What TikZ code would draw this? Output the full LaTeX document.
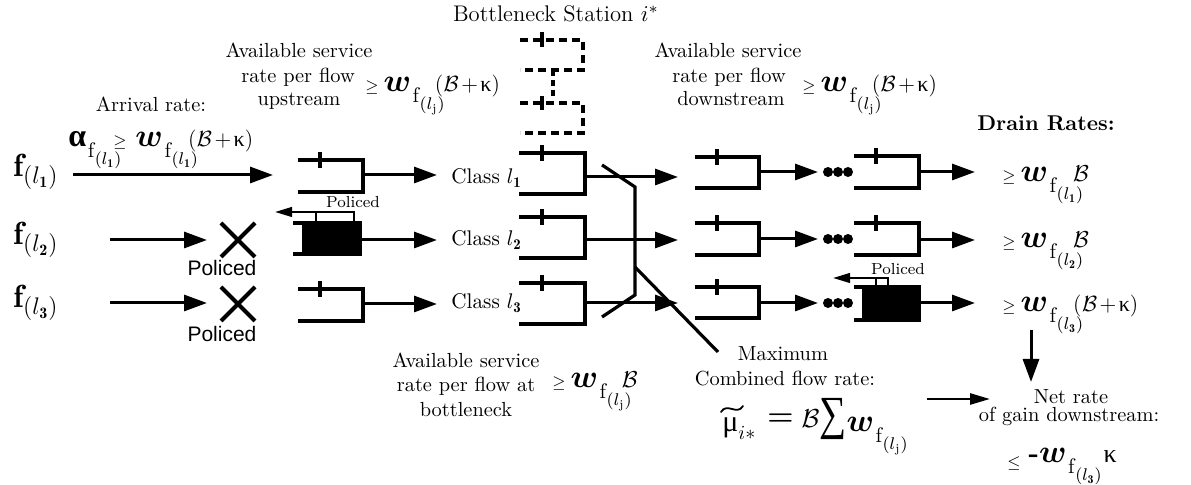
\RequirePackage{fix-cm}
\documentclass[tikz,border=0pt]{standalone}
\usepackage{amsmath}
\usepackage{graphicx}
\usepackage{fontspec}
\newfontfamily\sansf{Liberation Sans}
\newfontfamily\lserif{Liberation Serif}
\usetikzlibrary{arrows.meta}
\newcommand{\Ge}{{\fontsize{8}{8}\selectfont$\geq$}\kern2.5pt}
\newcommand{\VarSub}[2]{{\fontsize{16}{16}\selectfont #1}\kern0.8pt\raisebox{-5.5pt}{\fontsize{10.5}{10.5}\selectfont$\mathrm{f}$\kern0.3pt\raisebox{-3.5pt}{\fontsize{8.5}{8.5}\selectfont$(l_{#2})$}}}
\newcommand{\Wb}{$\boldsymbol{w}$}
\newcommand{\Kap}{{\lserif κ}}
\newcommand{\Bk}{{\fontsize{11}{11}\selectfont(\kern0.3pt$\mathcal{B}$\kern1.2pt+\kern1.2pt\Kap)}}
\newcommand{\RowF}[1]{{\fontsize{16}{16}\selectfont$\mathbf{f}$}\raisebox{-3.5pt}{\fontsize{12}{12}\selectfont$(l_{\mathbf{#1}})$}}
\newcommand{\Queue}[5]{%
  \draw[ql] (#1,#2) -- (#3,#2) -- (#3,#4) -- (#1,#4);
  \draw[ql] (#5,#2-8) -- (#5,#2+8);}
\begin{document}
\begin{tikzpicture}[x=0.5pt,y=-0.5pt,
  ql/.style={line width=1.9pt, line cap=butt, line join=miter},
  dq/.style={line width=1.9pt, dash pattern=on 4pt off 2.5pt},
  arr/.style={line width=1.5pt, -{Triangle[length=11.5pt,width=8pt]}},
  marr/.style={line width=1.3pt, -{Triangle[length=10pt,width=5.5pt]}},
  sarr/.style={line width=1.1pt, -{Triangle[length=8.5pt,width=4.8pt]}},
  pl/.style={line width=1.1pt},
  br/.style={line width=1.6pt},
  xm/.style={line width=2pt},
  tld/.style={line width=0.9pt, line cap=round},
  txt/.style={font=\fontsize{10.2}{12.25}\selectfont, inner sep=0pt},
  btxt/.style={font=\fontsize{10.7}{12.25}\selectfont\bfseries, inner sep=0pt},
  small/.style={font=\fontsize{8}{9}\selectfont, inner sep=0pt},
  pol/.style={font=\sansf\fontsize{10.5}{12}\selectfont, inner sep=0pt},
  fm/.style={anchor=base west, inner sep=0pt},
  dot/.style={circle, fill, inner sep=0pt, minimum size=5pt}
]
\useasboundingbox (0,0) rectangle (1191,485);

% ---------- titles and texts ----------
\node[txt, font=\fontsize{11.3}{12}\selectfont, anchor=base] (title) at (556,22) {Bottleneck Station $i^{*}$};

\node[txt, anchor=base] (tl1) at (299,58) {Available service};
\node[txt, anchor=base] (tl2) at (298,83) {rate per flow};
\node[txt, anchor=base] (tl3) at (299,106) {upstream};
\node[fm] (tlf) at (365,92) {\Ge\VarSub{\Wb}{\mathrm{j}}\kern-5pt\Bk};

\node[txt, anchor=base] (arrl) at (151,112) {Arrival rate:};
\node[fm] (arrf) at (68,147) {\VarSub{\lserif\bfseries α}{\mathbf{1}}\kern-4pt\Ge\kern2pt\VarSub{\Wb}{\mathbf{1}}\kern-5pt\Bk};

\node[txt, anchor=base] (tr1) at (728,58) {Available service};
\node[txt, anchor=base] (tr2) at (729,83) {rate per flow};
\node[txt, anchor=base] (tr3) at (731,106) {downstream};
\node[fm] (trf) at (802,92) {\Ge\VarSub{\Wb}{\mathrm{j}}\kern-5pt\Bk};

\node[btxt, anchor=base] (drain) at (1046,131) {Drain Rates:};

\node[txt, anchor=base] (bl1) at (466,368) {Available service};
\node[txt, anchor=base] (bl2) at (466,392) {rate per flow at};
\node[txt, anchor=base] (bl3) at (466,417) {bottleneck};
\node[fm] (blf) at (552,388) {\Ge\VarSub{\Wb}{\mathrm{j}}\kern-5pt{\fontsize{11.5}{11.5}\selectfont$\mathcal{B}$}};

\node[txt, anchor=base] (max1) at (783,361) {Maximum};
\node[txt, anchor=base] (max2) at (785,386) {Combined flow rate:};
\node[fm] (muf) at (722,432) {{\fontsize{15}{15}\selectfont\lserif μ}\raisebox{-4pt}{\fontsize{10}{10}\selectfont$i{*}$}\kern6pt\raisebox{3pt}{\fontsize{15}{15}\selectfont$\boldsymbol{=}$}\kern4pt\raisebox{2pt}{\fontsize{13}{13}\selectfont$\mathcal{B}$}\raisebox{1pt}{\scalebox{1}[1.25]{\lserif\fontsize{19}{19}\selectfont ∑}}\VarSub{\Wb}{\mathrm{j}}};
% tilde accent over mu
\coordinate (tA) at (721,412); \coordinate (tB) at (743,406);
\draw[tld] (tA) .. controls (727,402) and (737,416) .. (tB);

\node[txt, anchor=base] (net1) at (1071,404) {Net rate};
\node[txt, anchor=base] (net2) at (1069,422) {of gain downstream:};
\node[fm] (gain) at (1007,468) {{\fontsize{8}{8}\selectfont$\leq$}\kern4pt\raisebox{2.5pt}{{\fontsize{14}{14}\selectfont\bfseries -}\VarSub{\Wb}{\mathbf{3}}\kern1pt{\fontsize{13}{13}\selectfont\Kap}}};

% ---------- row labels ----------
\node[fm] (f1) at (13,177) {\RowF{1}};
\node[fm] (f2) at (13,245) {\RowF{2}};
\node[fm] (f3) at (13,308) {\RowF{3}};

\coordinate (f1a) at (73,175);  \coordinate (f1b) at (273,175);
\coordinate (f2a) at (110,240); \coordinate (f2b) at (207,240);
\coordinate (f3a) at (110,303); \coordinate (f3b) at (207,303);
\draw[arr] (f1a) -- (f1b);
\draw[arr] (f2a) -- (f2b);
\draw[arr] (f3a) -- (f3b);

% policed crosses
\coordinate (x2) at (238,240);
\coordinate (x3) at (238,304);
\draw[xm] ([shift={(-17,-17)}]x2) -- ([shift={(17,17)}]x2) ([shift={(-17,17)}]x2) -- ([shift={(17,-17)}]x2);
\draw[xm] ([shift={(-17,-17)}]x3) -- ([shift={(17,17)}]x3) ([shift={(-17,17)}]x3) -- ([shift={(17,-17)}]x3);
\node[pol] (p2) at (222,268) {Policed};
\node[pol] (p3) at (222,334) {Policed};

% ---------- upstream queues ----------
\Queue{298}{160}{363}{192}{320}
\fill (302,223) rectangle (360,254);
\draw[ql] (293,223) -- (360,223) -- (360,254) -- (293,254);
\Queue{298}{289}{363}{321}{320}

% policed bracket (upstream)
\coordinate (pbl) at (316,222); \coordinate (pbr) at (354,222);
\coordinate (pbtl) at (316,212); \coordinate (pbtr) at (354,212);
\coordinate (pbtip) at (275,212);
\draw[pl] (pbl) -- (pbtl);
\draw[sarr] (pbr) -- (pbtr) -- (pbtip);
\node[small] (pu) at (353,202) {Policed};

\coordinate (u1o) at (363,175); \coordinate (c1i) at (437,175);
\coordinate (u2o) at (360,240); \coordinate (c2i) at (437,240);
\coordinate (u3o) at (363,304); \coordinate (c3i) at (437,304);
\draw[arr] (u1o) -- (c1i);
\draw[arr] (u2o) -- (c2i);
\draw[arr] (u3o) -- (c3i);

% class labels
\node[txt, font=\fontsize{10.6}{12}\selectfont, anchor=base west] (cl1) at (451,184) {Class $l_{\mathbf{1}}$};
\node[txt, font=\fontsize{10.6}{12}\selectfont, anchor=base west] (cl2) at (451,246) {Class $l_{\mathbf{2}}$};
\node[txt, font=\fontsize{10.6}{12}\selectfont, anchor=base west] (cl3) at (451,309) {Class $l_{\mathbf{3}}$};

% ---------- bottleneck station ----------
\draw[dq] (520,40) -- (583,40) -- (583,70) -- (520,70);
\draw[ql] (542,32) -- (542,47);
\draw[line width=1.9pt, dash pattern=on 3pt off 2pt] (553,70) -- (553,96);
\draw[dq] (520,103) -- (583,103) -- (583,133) -- (520,133);
\draw[ql] (542,96) -- (542,110);

\Queue{519}{153}{585}{194}{542}
\Queue{519}{217}{585}{258}{542}
\Queue{519}{283}{585}{324}{542}

\coordinate (b1o) at (585,177); \coordinate (d1i) at (678,177);
\coordinate (b2o) at (585,240); \coordinate (d2i) at (678,240);
\coordinate (b3o) at (585,303); \coordinate (d3i) at (678,303);
\draw[arr] (b1o) -- (d1i);
\draw[arr] (b2o) -- (d2i);
\draw[arr] (b3o) -- (d3i);

% switch bracket and pointer
\coordinate (s1) at (602,165); \coordinate (s2) at (635,187);
\coordinate (s3) at (635,295); \coordinate (s4) at (602,317);
\draw[br] (s1) -- (s2) -- (s3) -- (s4);
\coordinate (ps) at (635,267); \coordinate (pe) at (718,352);
\draw[br] (ps) -- (pe);

% ---------- downstream queues ----------
\Queue{695}{157}{759}{188}{717}
\Queue{695}{223}{759}{255}{717}
\Queue{695}{287}{759}{318}{717}

\coordinate (a1o) at (759,172); \coordinate (a1e) at (818,172);
\coordinate (a2o) at (759,239); \coordinate (a2e) at (818,239);
\coordinate (a3o) at (759,303); \coordinate (a3e) at (818,303);
\draw[arr] (a1o) -- (a1e);
\draw[arr] (a2o) -- (a2e);
\draw[arr] (a3o) -- (a3e);

\foreach \yy/\nn in {172/1,239/2,303/3}{
  \node[dot] (da\nn) at (828,\yy) {};
  \node[dot] (db\nn) at (838,\yy) {};
  \node[dot] (dc\nn) at (848,\yy) {};
}

\Queue{854}{156}{919}{188}{876}
\Queue{854}{223}{919}{255}{876}
\fill (862,287) rectangle (919,320);
\draw[ql] (854,287) -- (919,287) -- (919,320) -- (854,320);

\coordinate (qbl) at (876,287); \coordinate (qbr) at (888,287);
\coordinate (qbtl) at (876,278); \coordinate (qbtr) at (888,278);
\coordinate (qbtip) at (833,278);
\draw[pl] (qbl) -- (qbtl);
\draw[sarr] (qbr) -- (qbtr) -- (qbtip);
\node[small] (pd) at (898,269) {Policed};

\coordinate (e1o) at (919,172); \coordinate (e1e) at (975,172);
\coordinate (e2o) at (919,240); \coordinate (e2e) at (975,240);
\coordinate (e3o) at (919,303); \coordinate (e3e) at (975,303);
\draw[arr] (e1o) -- (e1e);
\draw[arr] (e2o) -- (e2e);
\draw[arr] (e3o) -- (e3e);

% drain rates
\node[fm] (dr1) at (1002,182) {\Ge\VarSub{\Wb}{\mathbf{1}}\kern-5pt{\fontsize{11.5}{11.5}\selectfont$\mathcal{B}$}};
\node[fm] (dr2) at (1002,248) {\Ge\VarSub{\Wb}{\mathbf{2}}\kern-5pt{\fontsize{11.5}{11.5}\selectfont$\mathcal{B}$}};
\node[fm] (dr3) at (1002,312) {\Ge\VarSub{\Wb}{\mathbf{3}}\kern-5pt\Bk};

\coordinate (vd1) at (1031,330); \coordinate (vd2) at (1031,382);
\draw[arr] (vd1) -- (vd2);
\coordinate (hr1) at (927,399); \coordinate (hr2) at (990,399);
\draw[marr] (hr1) -- (hr2);
\end{tikzpicture}
\end{document}
